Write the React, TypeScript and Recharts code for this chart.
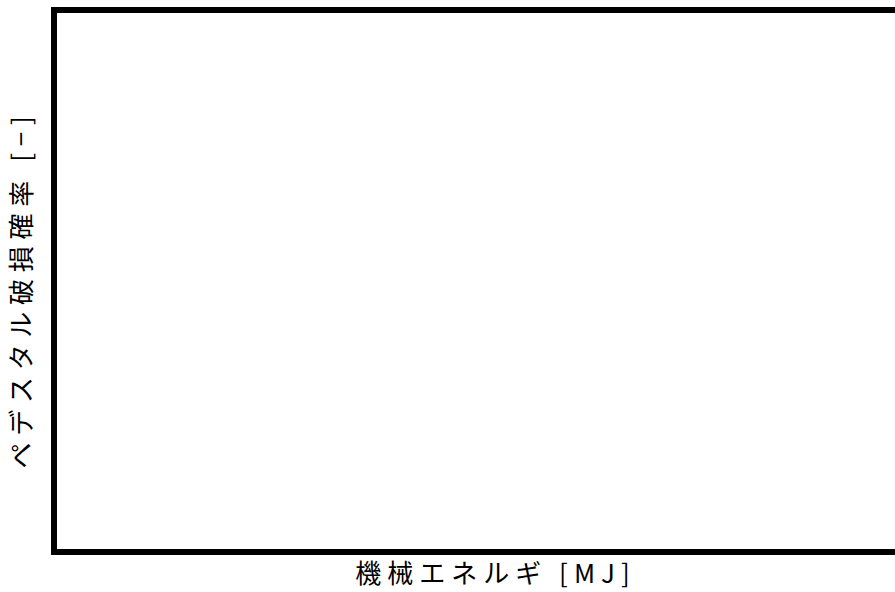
import React from "react";
import { ComposedChart, XAxis, YAxis } from "recharts";

// The reference shows an empty plot frame: no data points, no ticks.
// Only the axis extents (frame corners) are defined.
const energyMJ: number[] = [0, 1];
const pedestalFailureProbability: number[] = [0, 1];
const xDomain: [number, number] = [0, 1];
const yDomain: [number, number] = [0, 1];
const xLabel = "機械エネルギ [MJ]";
const yLabel = "ペデスタル破損確率 [−]";

const data = energyMJ.map((e, i) => ({ e, p: pedestalFailureProbability[i] }));

const FONT = "'Noto Sans CJK JP', 'Noto Sans', sans-serif";

const frameLine = { stroke: "#000", strokeWidth: 6, strokeLinecap: "square" as const };

const XLabel = (props: any) => {
  const vb = props.viewBox || {};
  const cx = vb.x + vb.width / 2;
  return (
    <text
      x={cx + 3}
      y={vb.y + 31}
      textAnchor="middle"
      fontFamily={FONT}
      fontSize={26}
      letterSpacing={6}
      fill="#000"
    >
      {xLabel}
    </text>
  );
};

const YLabel = (props: any) => {
  const vb = props.viewBox || {};
  const cy = vb.y + vb.height / 2 + 8;
  const x = 31;
  return (
    <text
      x={x}
      y={cy}
      textAnchor="middle"
      fontFamily={FONT}
      fontSize={26}
      letterSpacing={6.7}
      fill="#000"
      transform={`rotate(-90, ${x}, ${cy})`}
    >
      {yLabel}
    </text>
  );
};

export default function App() {
  return (
    <div
      style={{
        position: "absolute",
        left: 0,
        top: 0,
        width: 895,
        height: 592,
        overflow: "hidden",
        background: "#fff",
      }}
    >
      <ComposedChart
        width={940}
        height={592}
        data={data}
        margin={{ top: 9, left: 53, right: 8, bottom: 39 }}
      >
        <XAxis
          xAxisId="bottom"
          dataKey="e"
          type="number"
          domain={xDomain}
          orientation="bottom"
          height={1}
          axisLine={frameLine}
          tick={false}
          tickLine={false}
          label={{ content: <XLabel /> }}
        />
        <XAxis
          xAxisId="top"
          dataKey="e"
          type="number"
          domain={xDomain}
          orientation="top"
          height={1}
          axisLine={frameLine}
          tick={false}
          tickLine={false}
        />
        <YAxis
          yAxisId="left"
          dataKey="p"
          type="number"
          domain={yDomain}
          orientation="left"
          width={1}
          axisLine={frameLine}
          tick={false}
          tickLine={false}
          label={{ content: <YLabel /> }}
        />
        <YAxis
          yAxisId="right"
          dataKey="p"
          type="number"
          domain={yDomain}
          orientation="right"
          width={1}
          axisLine={frameLine}
          tick={false}
          tickLine={false}
        />
      </ComposedChart>
    </div>
  );
}
